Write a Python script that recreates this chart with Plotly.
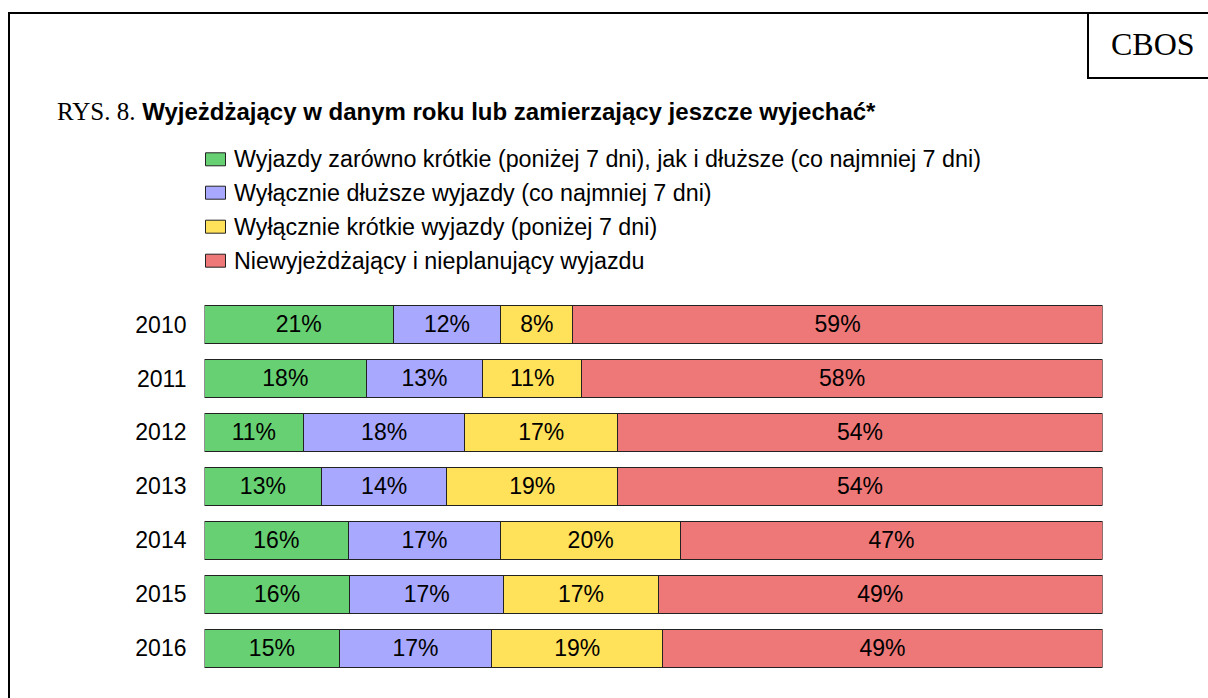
import plotly.graph_objects as go

W, H = 1208, 698

years = ["2010", "2011", "2012", "2013", "2014", "2015", "2016"]
series_names = [
    "Wyjazdy zarówno krótkie (poniżej 7 dni), jak i dłuższe (co najmniej 7 dni)",
    "Wyłącznie dłuższe wyjazdy (co najmniej 7 dni)",
    "Wyłącznie krótkie wyjazdy (poniżej 7 dni)",
    "Niewyjeżdżający i nieplanujący wyjazdu",
]
both_trips = [21, 18, 11, 13, 16, 16, 15]
only_long = [12, 13, 18, 14, 17, 17, 17]
only_short = [8, 11, 17, 19, 20, 17, 19]
not_travelling = [59, 58, 54, 54, 47, 49, 49]
series_values = [both_trips, only_long, only_short, not_travelling]
colors = ["#67D072", "#A8A8FF", "#FFE15A", "#EE7878"]

title_prefix = "RYS. 8."
title_text = "Wyjeżdżający w danym roku lub zamierzający jeszcze wyjechać*"
brand = "CBOS"

SANS = "Liberation Sans, Arial, sans-serif"
SERIF = "Liberation Serif, Times New Roman, serif"


def px(x):
    return x / W


def py(y):
    return 1 - y / H


fig = go.Figure()
for name, vals, col in zip(series_names, series_values, colors):
    fig.add_trace(go.Bar(
        y=years, x=vals, name=name, orientation="h",
        marker=dict(color=col, line=dict(color="#222222", width=1)),
        text=[f"{v}%" for v in vals],
        textposition="inside", insidetextanchor="middle",
        textfont=dict(family=SANS, size=23, color="black"),
        showlegend=False, hoverinfo="skip",
    ))

shapes = []
# outer frame (left and top)
shapes.append(dict(type="line", xref="paper", yref="paper",
                   x0=px(9), y0=py(13), x1=px(1215), y1=py(13),
                   line=dict(color="black", width=2)))
shapes.append(dict(type="line", xref="paper", yref="paper",
                   x0=px(9), y0=py(12), x1=px(9), y1=py(705),
                   line=dict(color="black", width=2)))
# CBOS box
shapes.append(dict(type="line", xref="paper", yref="paper",
                   x0=px(1088), y0=py(13), x1=px(1088), y1=py(78),
                   line=dict(color="black", width=2)))
shapes.append(dict(type="line", xref="paper", yref="paper",
                   x0=px(1087), y0=py(78), x1=px(1215), y1=py(78),
                   line=dict(color="black", width=2)))

annotations = [
    dict(text=brand, x=px(1152.5), y=py(44), xref="paper", yref="paper",
         xanchor="center", yanchor="middle", showarrow=False,
         font=dict(family=SERIF, size=32, color="black")),
    dict(text=f'<span style="font-family:{SERIF};font-size:25px">{title_prefix}</span> <b>{title_text}</b>',
         x=px(55), y=py(111), xref="paper", yref="paper",
         xanchor="left", yanchor="middle", showarrow=False,
         font=dict(family=SANS, size=24, color="black")),
]

# custom legend
leg_y = [159.3, 192.7, 226.7, 260.7]
for name, col, yc in zip(series_names, colors, leg_y):
    shapes.append(dict(type="rect", xref="paper", yref="paper",
                       x0=px(205.5), x1=px(225.5), y0=py(yc - 6.5), y1=py(yc + 6.5),
                       fillcolor=col, line=dict(color="#222222", width=1)))
    annotations.append(dict(text=name, x=px(231.5), y=py(yc), xref="paper", yref="paper",
                            xanchor="left", yanchor="middle", showarrow=False,
                            font=dict(family=SANS, size=23.3, color="black")))

fig.update_layout(
    width=W, height=H,
    margin=dict(l=0, r=0, t=0, b=0),
    paper_bgcolor="white", plot_bgcolor="white",
    barmode="stack", barnorm="percent", bargap=0.30,
    uniformtext=dict(minsize=23, mode="show"),
    shapes=shapes, annotations=annotations,
    xaxis=dict(domain=[px(204.5), px(1102.5)], range=[0, 100],
               showticklabels=False, showgrid=False, zeroline=False,
               showline=False, ticks="", fixedrange=True),
    yaxis=dict(domain=[py(675.3), py(297.5)], autorange="reversed",
               type="category", showgrid=False, zeroline=False, showline=False,
               ticks="", ticklabelstandoff=17,
               tickfont=dict(family=SANS, size=23, color="black")),
    showlegend=False,
)

fig.write_html("out.html", post_script="document.body.style.margin='0';",
               config={"displayModeBar": False})
